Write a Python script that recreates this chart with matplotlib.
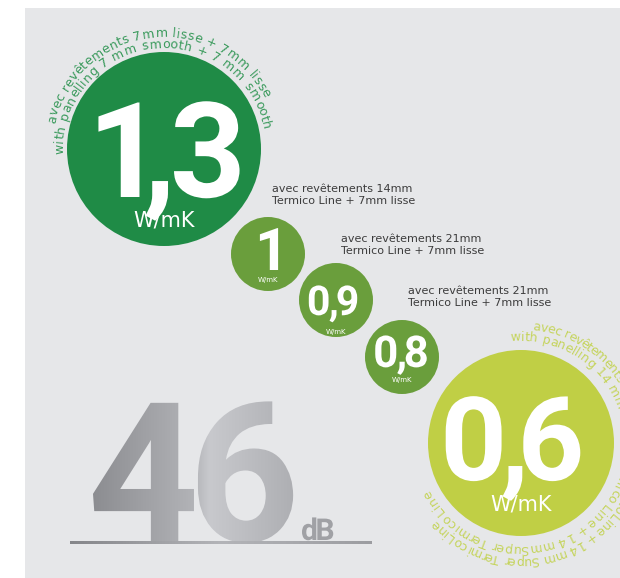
import numpy as np
import matplotlib
matplotlib.use('Agg')
import matplotlib.pyplot as plt
from matplotlib.textpath import TextPath, text_to_path
from matplotlib.font_manager import FontProperties
from matplotlib.patches import PathPatch, Rectangle, Circle
from matplotlib.path import Path
from matplotlib.transforms import Affine2D
from matplotlib.colors import LinearSegmentedColormap

# thermal conductivity per panelling option (W/mK)
values = [1.3, 1.0, 0.9, 0.8, 0.6]
unit = 'W/mK'
notes = [None,
         'avec revêtements 14mm\nTermico Line + 7mm lisse',
         'avec revêtements 21mm\nTermico Line + 7mm lisse',
         'avec revêtements 21mm\nTermico Line + 7mm lisse',
         None]
arc_first = ['avec revêtements 7mm lisse + 7mm lisse',
             'with panelling 7 mm smooth + 7 mm smooth']
arc_last = ['avec revêtements 14 mm Super Termico Line + 14 mm Super Termico Line',
            'with panelling 14 mm Super Termico Line + 14 mmSuper Termico Line']
sound_db = 46
sound_unit = 'dB'

# layout (pixels, y down)
centers = [(164, 149), (268, 254), (336, 300), (402, 357), (521, 443)]
radii = [97, 37, 37, 37, 93]
colors = ['#1f8b46', '#6a9e3c', '#6a9e3c', '#6a9e3c', '#c0cf45']
num_x = [169, 269, 333, 401, 513]
num_base = [197, 270, 315, 367, 480]
num_cap = [97, 43, 30, 32, 85]
num_gap = [6, 0, 1, 1, 1]
unit_y = [221, 280, 332, 380, 505]
unit_fs = [15, 5, 5, 5, 15]
note_xy = [None, (272, 184), (341, 234), (408, 286), None]

W, H = 620, 578
fig = plt.figure(figsize=(W / 100, H / 100), dpi=100)
ax = fig.add_axes([0, 0, 1, 1])
ax.axis('off')

ax.add_patch(Rectangle((25, 8), W - 25, H - 8, fc='#e6e7e9', ec='none', zorder=0))


def path_text(s, x, y, cap, gap=0, family='Roboto', weight='bold', ha='center'):
    # glyphs laid out ink-to-ink with a fixed gap, baseline at y
    fp = FontProperties(family=family, weight=weight)
    ref = TextPath((0, 0), '0', size=100, prop=fp).get_extents()
    size = cap * 100 / ref.height
    parts, pos = [], 0
    for ch in s:
        tp = TextPath((0, 0), ch, size=size, prop=fp)
        ext = tp.get_extents()
        parts.append(Affine2D().translate(pos - ext.x0, 0).transform_path(tp))
        pos += ext.width + gap
    total = pos - gap
    x0 = x - total / 2 if ha == 'center' else x
    tr = Affine2D().scale(1, -1).translate(x0, y)
    return tr.transform_path(Path.make_compound_path(*parts))


def char_widths(s, fp):
    base = text_to_path.get_text_width_height_descent('xx', fp, ismath=False)[0]
    return [text_to_path.get_text_width_height_descent('x' + c + 'x', fp, ismath=False)[0] - base
            for c in s]


def arc_text(s, cx, cy, r, a0, a1, fs, color):
    fp = FontProperties(family='DejaVu Sans', size=fs)
    w = np.array(char_widths(s, fp))
    mids = (np.cumsum(w) - w / 2) / w.sum()
    for ch, th in zip(s, np.deg2rad(a0 + (a1 - a0) * mids)):
        ax.text(cx + r * np.cos(th), cy - r * np.sin(th), ch, fontproperties=fp,
                rotation=np.rad2deg(th) - 90, rotation_mode='anchor',
                ha='center', va='baseline', color=color)


for i, v in enumerate(values):
    cx, cy = centers[i]
    ax.add_patch(Circle((cx, cy), radii[i], fc=colors[i], ec='none'))
    label = f'{v:g}'.replace('.', ',')
    ax.add_patch(PathPatch(path_text(label, num_x[i], num_base[i], num_cap[i], num_gap[i]),
                           fc='white', ec='none'))
    ax.text(cx, unit_y[i], unit, ha='center', va='center', fontsize=unit_fs[i],
            color='white', family='DejaVu Sans')
    if notes[i]:
        ax.text(note_xy[i][0], note_xy[i][1], notes[i], ha='left', va='top',
                fontsize=8, linespacing=1.3, color='#3c3c3c', family='DejaVu Sans')

# curved captions
arc_text(arc_first[0], *centers[0], 112, 167, 27, 9, '#3a9a5c')
arc_text(arc_first[1], *centers[0], 101, 183, 11, 9, '#3a9a5c')
arc_text(arc_last[0], *centers[4], 114, 84, -138, 9, '#c5d45c')
arc_text(arc_last[1], *centers[4], 102, 96, -153, 9, '#c5d45c')

# 46 dB with metallic gradient
gray = LinearSegmentedColormap.from_list('metal', [(0, '#8c8d91'), (0.5, '#b2b3b7'),
                                                   (0.58, '#c8c9cd'), (1, '#aeafb3')])
p46 = path_text(str(sound_db), 93, 541, 142, gap=4, ha='left')
e = p46.get_extents()
clip = PathPatch(p46, fc='none', ec='none')
ax.add_patch(clip)
im = ax.imshow(np.linspace(0, 1, 256)[None, :], cmap=gray, aspect='auto', zorder=2,
               extent=(e.x0, e.x1, e.y1, e.y0), interpolation='bilinear')
im.set_clip_path(clip)

line_cmap = LinearSegmentedColormap.from_list('line', ['#85868a', '#b3b4b8', '#9c9da1'])
ax.imshow(np.linspace(0, 1, 256)[None, :], cmap=line_cmap, aspect='auto', zorder=2,
          extent=(70, 372, 544.5, 541.5), interpolation='bilinear')
ax.add_patch(PathPatch(path_text(sound_unit, 302, 540, 22, gap=1, ha='left'),
                       fc='#a0a1a5', ec='none', zorder=3))

ax.set_xlim(0, W)
ax.set_ylim(H, 0)
fig.savefig('out.png', dpi=100, facecolor='white')
